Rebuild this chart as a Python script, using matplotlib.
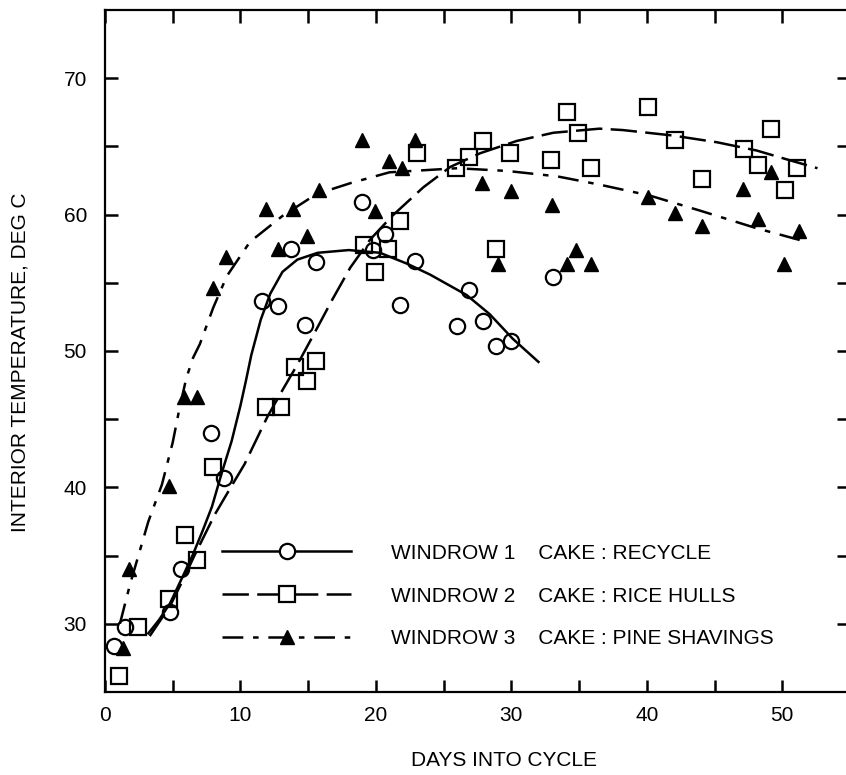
import matplotlib
matplotlib.use("Agg")
import matplotlib.pyplot as plt
from matplotlib.lines import Line2D

plt.rcParams['font.family'] = ['Liberation Sans', 'DejaVu Sans']
plt.rcParams['font.size'] = 15
plt.rcParams['lines.scale_dashes'] = False

# ---------------- data ----------------
series_labels = [
    "WINDROW 1    CAKE : RECYCLE",
    "WINDROW 2    CAKE : RICE HULLS",
    "WINDROW 3    CAKE : PINE SHAVINGS",
]

# Windrow 1 (open circles)
w1_day = [0.7, 1.5, 4.8, 5.6, 7.8, 8.8, 11.6, 12.8, 13.7, 14.8, 15.6, 19.0, 19.8,
          20.7, 21.8, 22.9, 26.0, 26.9, 27.9, 28.9, 30.0, 33.1]
w1_temp = [28.4, 29.8, 30.9, 34.0, 44.0, 40.7, 53.7, 53.3, 57.5, 51.9, 56.5, 60.9, 57.4,
           58.6, 53.4, 56.6, 51.8, 54.5, 52.2, 50.4, 50.7, 55.4]

# Windrow 2 (open squares)
w2_day = [1.0, 2.4, 4.7, 5.9, 6.8, 8.0, 11.9, 13.0, 14.0, 14.9, 15.6, 19.1, 19.9,
          20.9, 21.8, 23.0, 25.9, 26.9, 27.9, 28.9, 29.9, 32.9, 34.1, 34.9, 35.9,
          40.1, 42.1, 44.1, 47.2, 48.2, 49.2, 50.2, 51.1]
w2_temp = [26.2, 29.8, 31.8, 36.5, 34.7, 41.5, 45.9, 45.9, 48.8, 47.8, 49.3, 57.8, 55.8,
           57.5, 59.5, 64.5, 63.4, 64.2, 65.4, 57.5, 64.5, 64.0, 67.5, 66.0, 63.4,
           67.9, 65.5, 62.6, 64.8, 63.6, 66.3, 61.8, 63.4]

# Windrow 3 (filled triangles)
w3_day = [1.3, 1.8, 4.7, 5.8, 6.8, 8.0, 8.9, 11.9, 12.8, 13.9, 14.9, 15.8, 19.0, 19.9,
          21.0, 21.9, 22.9, 27.8, 29.0, 30.0, 33.0, 34.1, 34.8, 35.9, 40.1, 42.1,
          44.1, 47.1, 48.2, 49.2, 50.1, 51.2]
w3_temp = [28.2, 34.0, 40.1, 46.6, 46.6, 54.6, 56.9, 60.4, 57.5, 60.4, 58.4, 61.8, 65.5, 60.3,
           63.9, 63.4, 65.5, 62.3, 56.4, 61.7, 60.7, 56.4, 57.4, 56.4, 61.3, 60.1,
           59.2, 61.9, 59.7, 63.1, 56.4, 58.8]

# fitted curves
w1_fit_day = [3.2, 4.0, 4.8, 5.8, 6.5, 7.2, 7.9, 8.6, 9.35, 10.0, 10.4, 10.8, 11.5, 12.2,
              13.1, 14.2, 15.7, 18.0, 20.3, 22.3, 24.0, 26.7, 28.4, 30.1, 32.0]
w1_fit_temp = [29.3, 30.3, 31.5, 33.6, 35.1, 36.8, 38.6, 41.0, 43.4, 46.0, 47.8, 49.7, 52.3, 54.2,
               55.8, 56.7, 57.2, 57.4, 57.2, 56.4, 55.6, 54.1, 52.7, 50.9, 49.2]

w2_fit_day = [3.3, 4.8, 5.8, 6.6, 7.4, 8.1, 9.4, 10.3, 12.0, 13.2, 14.2, 15.4, 16.8, 18.1,
              19.6, 21.2, 23.5, 25.5, 27.7, 30.4, 33.1, 36.5, 38.2, 41.9, 45.2, 48.1,
              50.5, 52.6]
w2_fit_temp = [29.1, 31.3, 33.3, 35.0, 36.6, 38.0, 40.2, 41.7, 45.2, 47.3, 49.0, 51.2, 53.8, 56.1,
               58.2, 59.9, 62.0, 63.5, 64.5, 65.4, 66.0, 66.3, 66.2, 65.8, 65.3, 64.7,
               64.0, 63.4]

w3_fit_day = [1.1, 1.85, 3.2, 4.2, 5.0, 5.5, 6.0, 6.5, 7.0, 8.0, 9.0, 10.7, 13.1, 15.6,
              18.1, 21.0, 26.0, 29.7, 33.4, 36.5, 40.2, 43.9, 48.1, 51.8]
w3_fit_temp = [30.0, 32.9, 37.5, 40.2, 43.3, 45.8, 48.0, 49.5, 50.5, 53.2, 55.5, 58.0, 59.9, 61.5,
               62.3, 63.1, 63.4, 63.2, 62.8, 62.2, 61.4, 60.3, 59.0, 58.0]

x_ticks = [0, 5, 10, 15, 20, 25, 30, 35, 40, 45, 50]
x_tick_labels = ['0', '', '10', '', '20', '', '30', '', '40', '', '50']
y_ticks = [30, 35, 40, 45, 50, 55, 60, 65, 70]
y_tick_labels = ['30', '', '40', '', '50', '', '60', '', '70']

x_label = "DAYS INTO CYCLE"
y_label = "INTERIOR TEMPERATURE, DEG C"

# ---------------- styles ----------------
dash_w2 = (0, (19, 6))
dash_w3 = (0, (15, 7, 4, 7))
lw = 1.8

fig = plt.figure(figsize=(8.46, 7.75), dpi=100)
ax = fig.add_axes([105 / 846, 83 / 775, 745 / 846, 682 / 775])

# markers
ax.plot(w1_day, w1_temp, linestyle='none', marker='o', ms=11, mfc='none',
        mec='black', mew=1.6, zorder=2)
ax.plot(w2_day, w2_temp, linestyle='none', marker='s', ms=11.5, mfc='none',
        mec='black', mew=1.6, zorder=2)
ax.plot(w3_day, w3_temp, linestyle='none', marker='^', ms=10, mfc='black',
        mec='black', mew=1.0, zorder=2)

# curves
ax.plot(w1_fit_day, w1_fit_temp, color='black', lw=lw, linestyle='-', zorder=3)
ax.plot(w2_fit_day, w2_fit_temp, color='black', lw=lw, linestyle=dash_w2, zorder=3)
ax.plot(w3_fit_day, w3_fit_temp, color='black', lw=lw, linestyle=dash_w3, zorder=3)

ax.set_xlim(0, 55)
ax.set_ylim(25, 75)

ax.set_xticks(x_ticks)
ax.set_xticklabels(x_tick_labels)
ax.set_yticks(y_ticks)
ax.set_yticklabels(y_tick_labels)

ax.tick_params(axis='x', direction='in', top=True, bottom=True, length=9, width=1.8,
               pad=10, labelsize=15)
ax.tick_params(axis='y', direction='in', left=True, right=True, length=9.5, width=1.8,
               pad=13, labelsize=15)
for sp in ax.spines.values():
    sp.set_linewidth(1.6)

ax.set_xlabel(x_label, fontsize=15)
ax.set_ylabel(y_label, fontsize=15)
ax.xaxis.set_label_coords((504 - 105) / 745, -0.086)
ax.yaxis.set_label_coords(-0.101, 0.484)

# legend
handles = [
    Line2D([], [], color='black', lw=lw, linestyle='-', marker='o', ms=11,
           mfc='white', mec='black', mew=1.6),
    Line2D([], [], color='black', lw=lw, linestyle=dash_w2, marker='s', ms=11.5,
           mfc='white', mec='black', mew=1.6),
    Line2D([], [], color='black', lw=lw, linestyle=dash_w3, marker='^', ms=10,
           mfc='black', mec='black'),
]
ax.legend(handles, series_labels, loc='center left',
          bbox_to_anchor=((222 - 105) / 745, (692 - 596) / 682),
          frameon=False, fontsize=15, handlelength=6.2, handletextpad=1.9,
          labelspacing=1.14, borderpad=0, borderaxespad=0, numpoints=1)

fig.savefig("out.png", dpi=100)
